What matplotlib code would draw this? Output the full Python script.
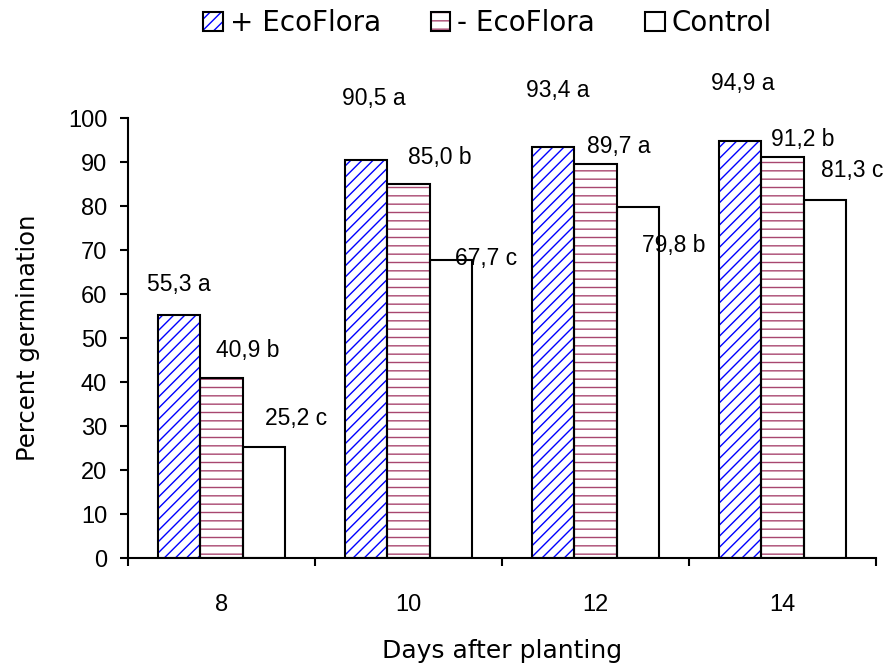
import numpy as np
import matplotlib
matplotlib.use("Agg")
import matplotlib.pyplot as plt
from matplotlib.patches import Patch

# -----------------------------
# Data
# -----------------------------
days = ["8", "10", "12", "14"]
series_names = ["+ EcoFlora", "- EcoFlora", "Control"]
plus_eco = [55.3, 90.5, 93.4, 94.9]
minus_eco = [40.9, 85.0, 89.7, 91.2]
control = [25.2, 67.7, 79.8, 81.3]
plus_letters = ["a", "a", "a", "a"]
minus_letters = ["b", "b", "a", "b"]
control_letters = ["c", "c", "b", "c"]

# label offsets (pixels) relative to bar top, hand placed like the original
plus_off = [(-1, 30), (7, 62), (4, 57), (2, 57)]
minus_off = [(26, 28), (31, 27), (23, 17), (20, 17)]
control_off = [(33, 29), (35, 2), (36, -38), (28, 30)]

NARROW = ["Liberation Sans", "DejaVu Sans"]
WIDE = ["DejaVu Sans"]

# -----------------------------
# Figure
# -----------------------------
fig = plt.figure(figsize=(8.93, 6.63), dpi=100)
ax = fig.add_axes([0.1433, 0.158, 0.8377, 0.6637])

x = np.arange(len(days))
w = 0.225
styles = [
    dict(hatch="///", hc="#0000ff"),
    dict(hatch="--", hc="#a8466f"),
    dict(hatch=None, hc="black"),
]
all_vals = [plus_eco, minus_eco, control]
all_letters = [plus_letters, minus_letters, control_letters]
all_off = [plus_off, minus_off, control_off]

handles = []
for i, (vals, st) in enumerate(zip(all_vals, styles)):
    xs = x + (i - 1) * w
    ax.bar(xs, vals, w, color="white", edgecolor=st["hc"], hatch=st["hatch"],
           linewidth=0, zorder=2)
    ax.bar(xs, vals, w, fill=False, edgecolor="black", linewidth=1.5, zorder=3)
    for xi, v, lt, (dx, dy) in zip(xs, vals, all_letters[i], all_off[i]):
        txt = ("%.1f" % v).replace(".", ",") + " " + lt
        ax.annotate(txt, xy=(xi, v), xytext=(dx, dy), textcoords="offset pixels",
                    ha="center", va="center", fontsize=16.5, family=NARROW,
                    annotation_clip=False)
    h1 = Patch(facecolor="white", edgecolor=st["hc"], hatch=st["hatch"], linewidth=0)
    h2 = Patch(fill=False, edgecolor="black", linewidth=1.5)
    handles.append((h1, h2))

ax.set_ylim(0, 100)
ax.set_xlim(-0.5, len(days) - 0.5)
ax.set_yticks(np.arange(0, 101, 10))
ax.set_yticklabels([str(t) for t in range(0, 101, 10)], family=NARROW, fontsize=17)
ax.set_xticks(x)
ax.set_xticklabels(days, family=NARROW, fontsize=17)
ax.set_xticks(np.arange(-0.5, len(days), 1.0), minor=True)
ax.tick_params(axis="x", which="major", length=0, pad=26)
ax.tick_params(axis="x", which="minor", length=6, width=1.5, direction="out")
ax.tick_params(axis="y", length=6, width=1.5, pad=9, direction="out")

for s in ["top", "right"]:
    ax.spines[s].set_visible(False)
for s in ["left", "bottom"]:
    ax.spines[s].set_linewidth(1.5)

ax.set_ylabel("Percent germination", family=WIDE, fontsize=17.5, labelpad=20)
ax.set_xlabel("Days after planting", family=WIDE, fontsize=18, labelpad=16)

fig.legend(handles, series_names, loc="center", bbox_to_anchor=(0.546, 0.965),
           ncol=3, frameon=False, prop={"family": WIDE, "size": 20},
           handlelength=0.7, handleheight=0.7, handletextpad=0.25, columnspacing=1.8)

fig.savefig("out.png", dpi=100)
